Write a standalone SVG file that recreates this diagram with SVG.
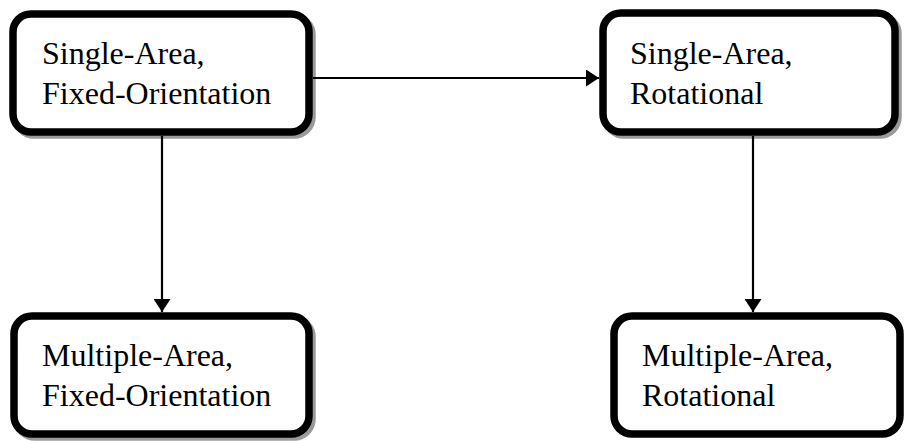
<svg xmlns="http://www.w3.org/2000/svg" width="904" height="441" viewBox="0 0 904 441">
<style>
.box{fill:#fff;stroke:#000;stroke-width:7.5}
.shadow{fill:none;stroke:#9a9a9a;stroke-width:7.5}
.lbl{font-family:"Liberation Serif","Times New Roman",serif;font-size:32px;fill:#000}
.conn{stroke:#000;stroke-width:2.2;fill:none}
</style>
<defs>
<marker id="arr" markerUnits="userSpaceOnUse" markerWidth="14" markerHeight="17" refX="13" refY="8.5" orient="auto">
<path d="M0,0 L13,8.5 L0,17 Z" fill="#000"/>
</marker>
</defs>
<g id="n1">
<rect class="shadow" x="16" y="17" width="296" height="118" rx="18"/>
<rect class="box" x="13" y="14" width="296" height="118" rx="18"/>
<text class="lbl" x="42" y="64">Single-Area,</text>
<text class="lbl" x="42" y="104">Fixed-Orientation</text>
</g>
<g id="n2">
<rect class="shadow" x="606" y="16" width="292" height="119" rx="18"/>
<rect class="box" x="603" y="13" width="292" height="119" rx="18"/>
<text class="lbl" x="630" y="64">Single-Area,</text>
<text class="lbl" x="630" y="104">Rotational</text>
</g>
<g id="n3">
<rect class="shadow" x="17" y="319" width="295" height="118" rx="18"/>
<rect class="box" x="14" y="316" width="295" height="118" rx="18"/>
<text class="lbl" x="42" y="366">Multiple-Area,</text>
<text class="lbl" x="42" y="406">Fixed-Orientation</text>
</g>
<g id="n4">
<rect class="box" x="614" y="316" width="286" height="118" rx="18"/>
<text class="lbl" x="642" y="366">Multiple-Area,</text>
<text class="lbl" x="642" y="406">Rotational</text>
</g>
<g id="connectors">
<line class="conn" x1="313" y1="78" x2="599" y2="78" marker-end="url(#arr)"/>
<line class="conn" x1="162" y1="136" x2="162" y2="312" marker-end="url(#arr)"/>
<line class="conn" x1="753" y1="136" x2="753" y2="312" marker-end="url(#arr)"/>
</g>
</svg>
